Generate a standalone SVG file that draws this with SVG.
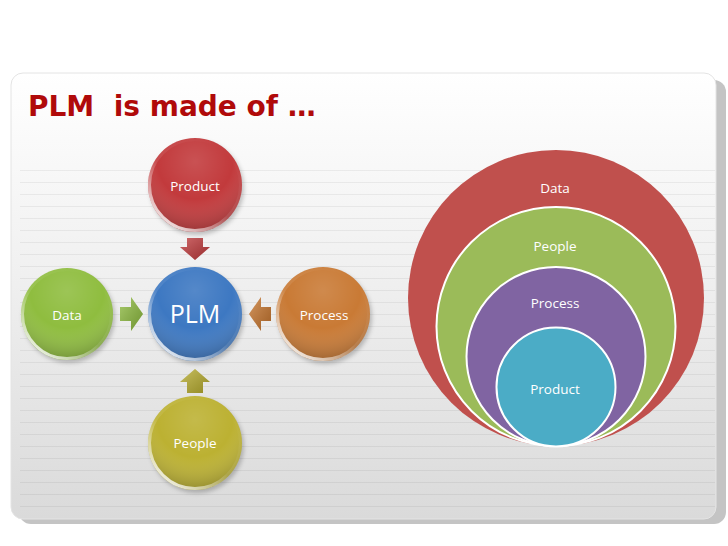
<svg xmlns="http://www.w3.org/2000/svg" width="728" height="546" viewBox="0 0 728 546">
<style>
.lbl{font-family:"Open Sans","Liberation Sans",sans-serif;font-size:13.5px;fill:#ffffff;text-anchor:middle}
.big{font-size:25px}
.stripe{stroke:#000;stroke-opacity:0.055;stroke-width:1}
.ring{stroke:#ffffff;stroke-width:2}
.shade{fill:url(#shade)}
.rim{fill:none;stroke:url(#rim);stroke-width:3}
.sh{fill:#000;fill-opacity:0.22;filter:url(#blur)}
</style>
<defs>
<linearGradient id="bg" x1="0" y1="0" x2="0" y2="1">
<stop offset="0" stop-color="#ffffff"/>
<stop offset="0.45" stop-color="#f0f0f0"/>
<stop offset="1" stop-color="#dadada"/>
</linearGradient>
<radialGradient id="shade" cx="0.5" cy="0.25" r="0.8">
<stop offset="0" stop-color="#ffffff" stop-opacity="0.12"/>
<stop offset="0.5" stop-color="#ffffff" stop-opacity="0"/>
<stop offset="1" stop-color="#000000" stop-opacity="0.3"/>
</radialGradient>
<linearGradient id="rim" x1="0.85" y1="0.1" x2="0.2" y2="0.95">
<stop offset="0" stop-color="#ffffff" stop-opacity="0"/>
<stop offset="0.55" stop-color="#ffffff" stop-opacity="0.1"/>
<stop offset="1" stop-color="#ffffff" stop-opacity="0.85"/>
</linearGradient>
<linearGradient id="ashade" x1="0" y1="0" x2="1" y2="1">
<stop offset="0" stop-color="#ffffff" stop-opacity="0.25"/>
<stop offset="1" stop-color="#000000" stop-opacity="0.2"/>
</linearGradient>
<filter id="blur" x="-20%" y="-20%" width="140%" height="140%">
<feGaussianBlur stdDeviation="2"/>
</filter>
</defs>

<rect width="728" height="546" fill="#ffffff"/>

<g id="panel">
<rect x="19" y="80" width="707" height="444" rx="12" fill="#c4c4c4"/>
<rect x="11" y="73" width="705" height="446" rx="12" fill="url(#bg)" stroke="#e4e4e4" stroke-width="1"/>
<g id="stripes">
<line class="stripe" x1="20" y1="170.5" x2="715" y2="170.5"/>
<line class="stripe" x1="20" y1="182.5" x2="715" y2="182.5"/>
<line class="stripe" x1="20" y1="194.5" x2="715" y2="194.5"/>
<line class="stripe" x1="20" y1="206.5" x2="715" y2="206.5"/>
<line class="stripe" x1="20" y1="218.5" x2="715" y2="218.5"/>
<line class="stripe" x1="20" y1="230.5" x2="715" y2="230.5"/>
<line class="stripe" x1="20" y1="242.5" x2="715" y2="242.5"/>
<line class="stripe" x1="20" y1="254.5" x2="715" y2="254.5"/>
<line class="stripe" x1="20" y1="266.5" x2="715" y2="266.5"/>
<line class="stripe" x1="20" y1="278.5" x2="715" y2="278.5"/>
<line class="stripe" x1="20" y1="290.5" x2="715" y2="290.5"/>
<line class="stripe" x1="20" y1="302.5" x2="715" y2="302.5"/>
<line class="stripe" x1="20" y1="314.5" x2="715" y2="314.5"/>
<line class="stripe" x1="20" y1="326.5" x2="715" y2="326.5"/>
<line class="stripe" x1="20" y1="338.5" x2="715" y2="338.5"/>
<line class="stripe" x1="20" y1="350.5" x2="715" y2="350.5"/>
<line class="stripe" x1="20" y1="362.5" x2="715" y2="362.5"/>
<line class="stripe" x1="20" y1="374.5" x2="715" y2="374.5"/>
<line class="stripe" x1="20" y1="386.5" x2="715" y2="386.5"/>
<line class="stripe" x1="20" y1="398.5" x2="715" y2="398.5"/>
<line class="stripe" x1="20" y1="410.5" x2="715" y2="410.5"/>
<line class="stripe" x1="20" y1="422.5" x2="715" y2="422.5"/>
<line class="stripe" x1="20" y1="434.5" x2="715" y2="434.5"/>
<line class="stripe" x1="20" y1="446.5" x2="715" y2="446.5"/>
<line class="stripe" x1="20" y1="458.5" x2="715" y2="458.5"/>
<line class="stripe" x1="20" y1="470.5" x2="715" y2="470.5"/>
<line class="stripe" x1="20" y1="482.5" x2="715" y2="482.5"/>
<line class="stripe" x1="20" y1="494.5" x2="715" y2="494.5"/>
<line class="stripe" x1="20" y1="506.5" x2="715" y2="506.5"/>
</g>
</g>

<text id="title" x="28" y="116" xml:space="preserve" font-family="'DejaVu Sans','Liberation Sans',sans-serif" font-weight="bold" font-size="28" fill="#b00a0a">PLM  is made of …</text>

<g id="connectors">
<polygon points="187,238 203,238 203,247 210,247 195,260 180,247 187,247" fill="#c0393b"/>
<polygon points="187,238 203,238 203,247 210,247 195,260 180,247 187,247" fill="url(#ashade)"/>
<polygon points="120,307 131,307 131,297 143,314 131,331 131,321 120,321" fill="#8dbb3e"/>
<polygon points="120,307 131,307 131,297 143,314 131,331 131,321 120,321" fill="url(#ashade)"/>
<polygon points="271,307 261,307 261,297 249,314 261,331 261,321 271,321" fill="#c8762e"/>
<polygon points="271,307 261,307 261,297 249,314 261,331 261,321 271,321" fill="url(#ashade)"/>
<polygon points="187,393 203,393 203,382 210,382 195,369 180,382 187,382" fill="#b8ad2e"/>
<polygon points="187,393 203,393 203,382 210,382 195,369 180,382 187,382" fill="url(#ashade)"/>
</g>

<g id="node-product">
<circle class="sh" cx="197" cy="188" r="47"/>
<circle cx="195" cy="185" r="47" fill="#c23a3c"/>
<circle class="shade" cx="195" cy="185" r="47"/>
<circle class="rim" cx="195" cy="185" r="45.5"/>
<text class="lbl" x="195" y="191">Product</text>
</g>
<g id="node-plm">
<circle class="sh" cx="197" cy="317" r="47"/>
<circle cx="195" cy="314" r="47" fill="#3d78c2"/>
<circle class="shade" cx="195" cy="314" r="47"/>
<circle class="rim" cx="195" cy="314" r="45.5"/>
<text class="lbl big" x="195" y="323">PLM</text>
</g>
<g id="node-data">
<circle class="sh" cx="69" cy="317" r="46"/>
<circle cx="67" cy="314" r="46" fill="#8fbd3f"/>
<circle class="shade" cx="67" cy="314" r="46"/>
<circle class="rim" cx="67" cy="314" r="44.5"/>
<text class="lbl" x="67" y="320">Data</text>
</g>
<g id="node-process">
<circle class="sh" cx="325" cy="317" r="47"/>
<circle cx="323" cy="314" r="47" fill="#c97a35"/>
<circle class="shade" cx="323" cy="314" r="47"/>
<circle class="rim" cx="323" cy="314" r="45.5"/>
<text class="lbl" x="324" y="320">Process</text>
</g>
<g id="node-people">
<circle class="sh" cx="197" cy="446" r="47"/>
<circle cx="195" cy="443" r="47" fill="#bcb132"/>
<circle class="shade" cx="195" cy="443" r="47"/>
<circle class="rim" cx="195" cy="443" r="45.5"/>
<text class="lbl" x="195" y="448">People</text>
</g>

<g id="nested">
<g id="ring-data">
<circle cx="556" cy="298" r="148" fill="#c0504d"/>
<text class="lbl" x="555" y="193">Data</text>
</g>
<g id="ring-people">
<circle class="ring" cx="556" cy="326.5" r="119.5" fill="#9bbb59"/>
<text class="lbl" x="555" y="251">People</text>
</g>
<g id="ring-process">
<circle class="ring" cx="556" cy="356.5" r="89.5" fill="#8064a2"/>
<text class="lbl" x="555" y="308">Process</text>
</g>
<g id="ring-product">
<circle class="ring" cx="556" cy="387" r="59.5" fill="#4bacc6"/>
<text class="lbl" x="555" y="394">Product</text>
</g>
</g>
</svg>
